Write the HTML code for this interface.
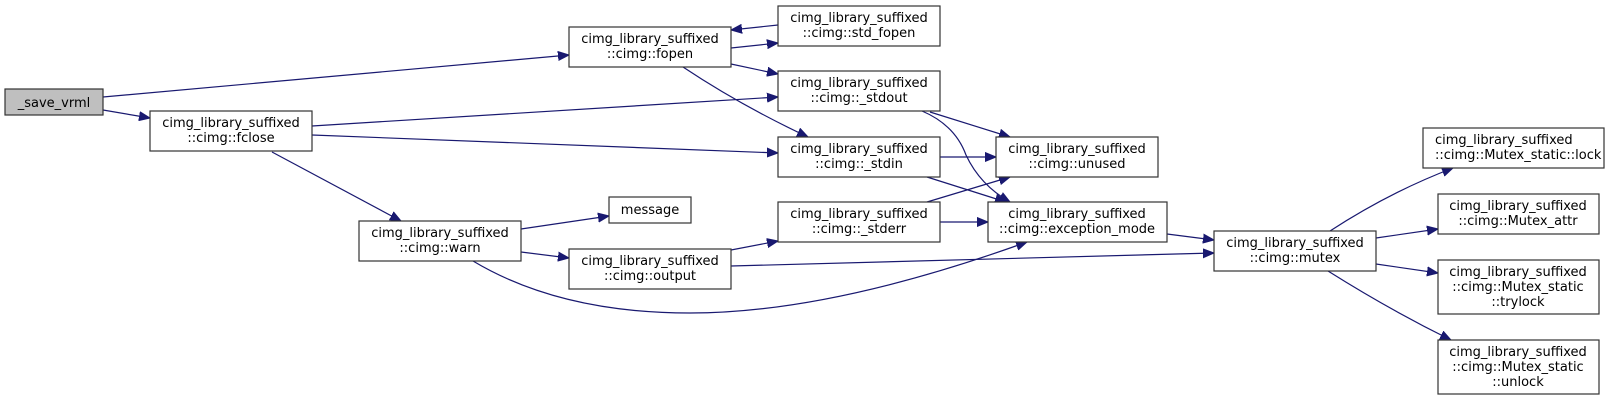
<!DOCTYPE html>
<html><head><meta charset="utf-8"><style>
html,body{margin:0;padding:0;background:#fff;}
svg{display:block;}
text{font-family:"DejaVu Sans","Liberation Sans",sans-serif;font-size:13px;fill:#000;}
.n{fill:#fff;stroke:#333;stroke-width:1.2;}
.e{fill:none;stroke:#191970;stroke-width:1.2;marker-end:url(#a);}
</style></head><body>
<svg width="1619" height="401" viewBox="0 0 1619 401" xmlns="http://www.w3.org/2000/svg">
<defs><marker id="a" markerWidth="12" markerHeight="10" refX="11" refY="5" orient="auto" markerUnits="userSpaceOnUse"><path d="M0,0.5 L11,5 L0,9.5 Z" fill="#191970" stroke="#191970"/></marker></defs>

<g>
<path class="e" d="M103,97 L569,55"/>
<path class="e" d="M103,110 L150,118"/>
<path class="e" d="M312,126 L778,97"/>
<path class="e" d="M312,135 L778,153"/>
<path class="e" d="M272,152 L401,221"/>
<path class="e" d="M731,48 L778,43"/>
<path class="e" d="M778,25 L731,30"/>
<path class="e" d="M731,64 L778,74"/>
<path class="e" d="M683,67 Q740,105 808,137"/>
<path class="e" d="M930,112 L1010,137"/>
<path class="e" d="M922,111 Q955,125 966,155 Q980,185 1010,202"/>
<path class="e" d="M940,157 L996,157"/>
<path class="e" d="M927,177 L1006,202"/>
<path class="e" d="M927,202 L1010,177"/>
<path class="e" d="M940,222 L988,222"/>
<path class="e" d="M521,229 L609,216"/>
<path class="e" d="M521,252 L569,258"/>
<path class="e" d="M473,261 Q560,313 690,313 Q830,313 1027,242"/>
<path class="e" d="M731,250 L778,241"/>
<path class="e" d="M731,266 L1214,253"/>
<path class="e" d="M1167,234 L1214,240"/>
<path class="e" d="M1330,231 Q1390,192 1453,168"/>
<path class="e" d="M1376,238 L1438,229"/>
<path class="e" d="M1376,264 L1438,273"/>
<path class="e" d="M1328,271 Q1390,310 1451,340"/>
</g>

<rect x="5" y="89" width="98" height="26" fill="#bfbfbf" stroke="#333" stroke-width="1.2"/>
<text x="54" y="107" text-anchor="middle">_save_vrml</text>

<rect class="n" x="150" y="111" width="162" height="40"/>
<text x="231" y="127" text-anchor="middle">cimg_library_suffixed</text>
<text x="231" y="142" text-anchor="middle">::cimg::fclose</text>

<rect class="n" x="569" y="27" width="162" height="40"/>
<text x="650" y="43" text-anchor="middle">cimg_library_suffixed</text>
<text x="650" y="58" text-anchor="middle">::cimg::fopen</text>

<rect class="n" x="778" y="6" width="162" height="40"/>
<text x="859" y="22" text-anchor="middle">cimg_library_suffixed</text>
<text x="859" y="37" text-anchor="middle">::cimg::std_fopen</text>

<rect class="n" x="778" y="71" width="162" height="40"/>
<text x="859" y="87" text-anchor="middle">cimg_library_suffixed</text>
<text x="859" y="102" text-anchor="middle">::cimg::_stdout</text>

<rect class="n" x="778" y="137" width="162" height="40"/>
<text x="859" y="153" text-anchor="middle">cimg_library_suffixed</text>
<text x="859" y="168" text-anchor="middle">::cimg::_stdin</text>

<rect class="n" x="996" y="137" width="162" height="40"/>
<text x="1077" y="153" text-anchor="middle">cimg_library_suffixed</text>
<text x="1077" y="168" text-anchor="middle">::cimg::unused</text>

<rect class="n" x="609" y="197" width="82" height="26"/>
<text x="650" y="214" text-anchor="middle">message</text>

<rect class="n" x="778" y="202" width="162" height="40"/>
<text x="859" y="218" text-anchor="middle">cimg_library_suffixed</text>
<text x="859" y="233" text-anchor="middle">::cimg::_stderr</text>

<rect class="n" x="988" y="202" width="179" height="40"/>
<text x="1077" y="218" text-anchor="middle">cimg_library_suffixed</text>
<text x="1077" y="233" text-anchor="middle">::cimg::exception_mode</text>

<rect class="n" x="359" y="221" width="162" height="40"/>
<text x="440" y="237" text-anchor="middle">cimg_library_suffixed</text>
<text x="440" y="252" text-anchor="middle">::cimg::warn</text>

<rect class="n" x="569" y="249" width="162" height="40"/>
<text x="650" y="265" text-anchor="middle">cimg_library_suffixed</text>
<text x="650" y="280" text-anchor="middle">::cimg::output</text>

<rect class="n" x="1214" y="231" width="162" height="40"/>
<text x="1295" y="247" text-anchor="middle">cimg_library_suffixed</text>
<text x="1295" y="262" text-anchor="middle">::cimg::mutex</text>

<rect class="n" x="1423" y="128" width="181" height="40"/>
<text x="1435" y="144">cimg_library_suffixed</text>
<text x="1435" y="159">::cimg::Mutex_static::lock</text>

<rect class="n" x="1438" y="194" width="161" height="40"/>
<text x="1518" y="210" text-anchor="middle">cimg_library_suffixed</text>
<text x="1518" y="225" text-anchor="middle">::cimg::Mutex_attr</text>

<rect class="n" x="1438" y="260" width="161" height="54"/>
<text x="1518" y="276" text-anchor="middle">cimg_library_suffixed</text>
<text x="1518" y="291" text-anchor="middle">::cimg::Mutex_static</text>
<text x="1518" y="306" text-anchor="middle">::trylock</text>

<rect class="n" x="1438" y="340" width="161" height="54"/>
<text x="1518" y="356" text-anchor="middle">cimg_library_suffixed</text>
<text x="1518" y="371" text-anchor="middle">::cimg::Mutex_static</text>
<text x="1518" y="386" text-anchor="middle">::unlock</text>
</svg>
</body></html>
